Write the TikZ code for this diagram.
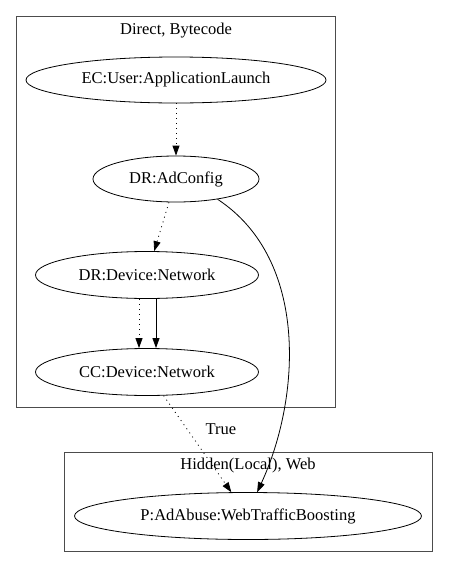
\documentclass[tikz,border=0pt]{standalone}
\usepackage{fontspec}
\setmainfont{Liberation Serif}
\usetikzlibrary{shapes.geometric,arrows.meta}

\begin{document}
\begin{tikzpicture}[x=1pt,y=-1pt,
  font=\fontsize{16.5}{18}\selectfont,
  state/.style={draw,ellipse,inner sep=0pt,line width=0.8pt},
  cluster/.style={draw=black!70,line width=1pt},
  flow/.style={line width=0.8pt,-{Triangle[length=10pt,width=7pt]}},
  dotflow/.style={flow,dash pattern=on 1pt off 4pt}]
\useasboundingbox (0,0) rectangle (448,568);

% Clusters
\draw[cluster] (16,16) rectangle (335,407);
\node at (176,31) {Direct, Bytecode};
\draw[cluster] (64,452) rectangle (432,551);
\node at (248,466) {Hidden(Local), Web};

% States
\node[state,minimum width=300pt,minimum height=46pt] (ec) at (176,80) {EC:User:ApplicationLaunch};
\node[state,minimum width=166pt,minimum height=46pt] (adconf) at (176,179) {DR:AdConfig};
\node[state,minimum width=223pt,minimum height=47pt] (drnet) at (147,275) {DR:Device:Network};
\node[state,minimum width=223pt,minimum height=47pt] (ccnet) at (147,372) {CC:Device:Network};
\node[state,minimum width=347pt,minimum height=47pt] (abuse) at (248,516) {P:AdAbuse:WebTrafficBoosting};

% Edges
\draw[dotflow] (ec) -- (adconf);
\draw[dotflow] (adconf) -- (drnet);
\draw[dotflow] ([xshift=-8pt]drnet.south) -- ([xshift=-8pt]ccnet.north);
\draw[flow] ([xshift=9pt]drnet.south) -- ([xshift=9pt]ccnet.north);
\draw[dotflow] (ccnet) -- node[pos=0.35,anchor=west,inner sep=0pt,xshift=18pt] {True} (abuse);
\draw[flow] (adconf.-26) .. controls (310,260) and (300,400) .. (abuse.69);
\end{tikzpicture}
\end{document}
